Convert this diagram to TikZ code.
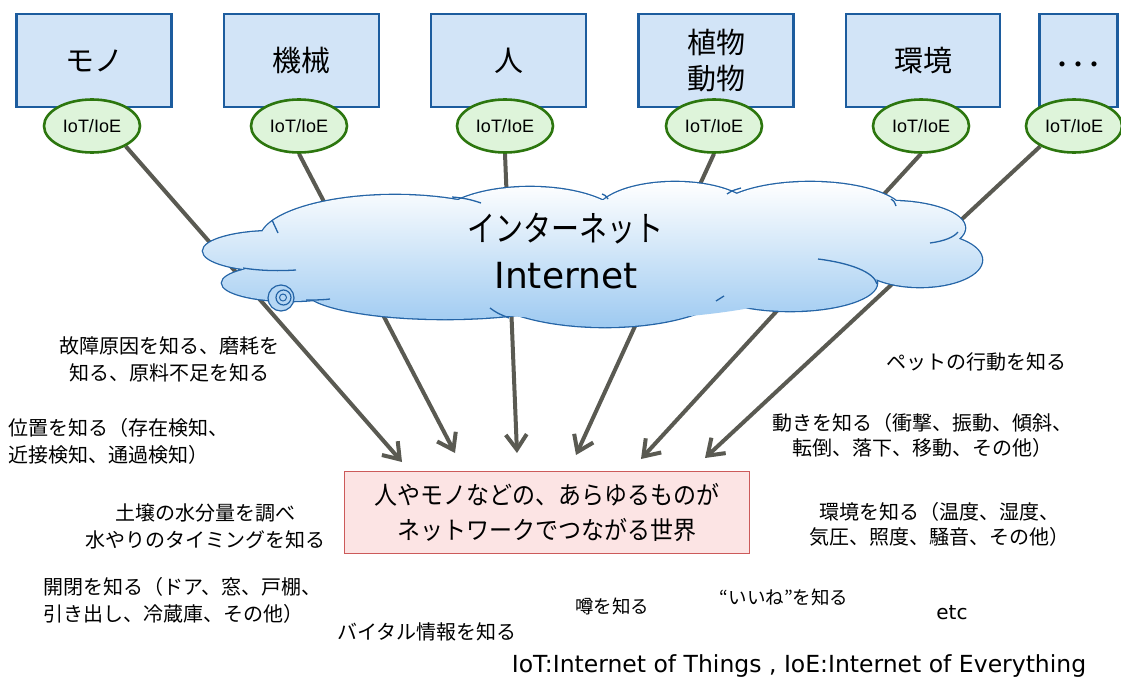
\documentclass[tikz,border=0pt]{standalone}
\usepackage{fontspec}
\newfontfamily\jp{Noto Sans CJK JP}
\newfontfamily\jpn[FakeStretch=0.8]{Noto Sans CJK JP}
\newfontfamily\jpm[FakeStretch=0.92]{Noto Sans CJK JP}
\newfontfamily\dv{DejaVu Sans}
\newfontfamily\ar{Liberation Sans}
\usetikzlibrary{shapes.geometric,arrows.meta,backgrounds}
\definecolor{boxfill}{RGB}{210,228,247}
\definecolor{boxline}{RGB}{28,92,158}
\definecolor{iotfill}{RGB}{222,244,218}
\definecolor{iotline}{RGB}{44,118,14}
\definecolor{arrgray}{RGB}{90,90,82}
\definecolor{cloudline}{RGB}{36,100,166}
\definecolor{cloudbot}{RGB}{158,202,241}
\definecolor{pinkfill}{RGB}{252,228,228}
\definecolor{pinkline}{RGB}{204,90,90}
\begin{document}
\begin{tikzpicture}[x=1pt,y=-1pt,
  thing/.style={draw=boxline, fill=boxfill, line width=2.6pt, minimum width=155pt, minimum height=93pt, inner sep=0pt, font=\jp\fontsize{29}{36}\selectfont, align=center},
  iot/.style={ellipse, draw=iotline, fill=iotfill, line width=2.6pt, minimum width=96pt, minimum height=53pt, inner sep=0pt, font=\ar\fontsize{18}{20}\selectfont},
  arr/.style={draw=arrgray, line width=4pt, -{Straight Barb[length=15pt,width=21pt]}},
  lbl/.style={font=\jp\fontsize{20}{27}\selectfont, inner sep=0pt},
  rlbl/.style={font=\jp\fontsize{20}{25.5}\selectfont, inner sep=0pt},
  puffline/.style={draw=cloudline, line width=1.3pt},
  centrebox/.style={draw=pinkline, fill=pinkfill, line width=1.3pt, minimum width=405pt, minimum height=82pt, inner sep=0pt, align=center, font=\jpm\fontsize{25}{35}\selectfont},
  captxt/.style={font=\dv\fontsize{23.5}{26}\selectfont, inner sep=0pt}]
\useasboundingbox (0,0) rectangle (1121,680);

% top boxes
\node[thing] (b1) at (94,60.5) {モノ};
\node[thing] (b2) at (301.5,60.5) {機械};
\node[thing] (b3) at (508.5,60.5) {人};
\node[thing] (b4) at (716,60.5) {植物\\動物};
\node[thing, minimum width=154pt] (b5) at (923,60.5) {環境};
\node[thing, minimum width=78pt, font=\jp\fontsize{24}{28}\selectfont] (b6) at (1078.5,60.5) {\smash{\raisebox{-13pt}{・\kern-8pt・\kern-8pt・}}};

% IoT/IoE ellipses
\node[iot] (e1) at (92,126) {IoT/IoE};
\node[iot] (e2) at (299,126) {IoT/IoE};
\node[iot] (e3) at (505,126) {IoT/IoE};
\node[iot] (e4) at (714,126) {IoT/IoE};
\node[iot] (e5) at (921,126) {IoT/IoE};
\node[iot] (e6) at (1074,126) {IoT/IoE};

% arrow targets
\coordinate (t1) at (402,462);
\coordinate (t2) at (455,453);
\coordinate (t3) at (517,453);
\coordinate (t4) at (576,455);
\coordinate (t5) at (641,459);
\coordinate (t6) at (705,458);

\begin{pgfonlayer}{background}
\fill[white] (0,0) rectangle (1121,680);
\draw[arr] (e1.-31) -- (t1);
\draw[arr] (e2.south) -- (t2);
\draw[arr] (e3.south) -- (t3);
\draw[arr] (e4.south) -- (t4);
\draw[arr] (e5.south) -- (t5);
\draw[arr] (e6.-149) -- (t6);
\end{pgfonlayer}

% cloud: outline then gradient fill
\path[draw=cloudline, line width=2.6pt]
  (395,240) ellipse[x radius=135pt, y radius=45pt]
  (275,251) ellipse[x radius=72pt, y radius=20pt]
  (290,283) ellipse[x radius=68pt, y radius=18pt]
  (445,290) ellipse[x radius=140pt, y radius=29pt]
  (605,282) ellipse[x radius=128pt, y radius=45pt]
  (790,283) ellipse[x radius=87pt, y radius=28pt]
  (920,260) ellipse[x radius=62pt, y radius=27pt]
  (890,228) ellipse[x radius=75pt, y radius=27pt]
  (810,215) ellipse[x radius=95pt, y radius=33pt]
  (675,215) ellipse[x radius=80pt, y radius=33pt]
  (530,225) ellipse[x radius=95pt, y radius=38pt];
\shade[top color=white, bottom color=cloudbot]
  (395,240) ellipse[x radius=135pt, y radius=45pt]
  (275,251) ellipse[x radius=72pt, y radius=20pt]
  (290,283) ellipse[x radius=68pt, y radius=18pt]
  (445,290) ellipse[x radius=140pt, y radius=29pt]
  (605,282) ellipse[x radius=128pt, y radius=45pt]
  (790,283) ellipse[x radius=87pt, y radius=28pt]
  (920,260) ellipse[x radius=62pt, y radius=27pt]
  (890,228) ellipse[x radius=75pt, y radius=27pt]
  (810,215) ellipse[x radius=95pt, y radius=33pt]
  (675,215) ellipse[x radius=80pt, y radius=33pt]
  (530,225) ellipse[x radius=95pt, y radius=38pt]
  (590,255) ellipse[x radius=300pt, y radius=50pt]
  (600,260) ellipse[x radius=250pt, y radius=60pt];
% interior puff arcs
\draw[puffline] (272,220) .. controls (275,226) .. (278,233);
\draw[puffline] (243,268) .. controls (262,271) and (280,271) .. (296,270);
\draw[puffline] (306,300) .. controls (315,300) and (322,300) .. (330,299);
\draw[puffline] (490,308) .. controls (497,313) .. (509,318);
\draw[puffline] (716,301) .. controls (720,299) .. (724,296);
\draw[puffline] (818,259) .. controls (850,263) and (874,272) .. (877,284);
\draw[puffline] (930,243) .. controls (945,241) and (954,237) .. (958,232);
\draw[puffline] (891,199) .. controls (894,201) .. (896,206);
\draw[puffline] (727,194) .. controls (731,191) .. (741,188);
\draw[puffline] (452,197) .. controls (465,198) and (472,200) .. (481,203);
\draw[puffline] (602,194) .. controls (605,195) .. (608,199);
% small circles
\draw[cloudline, line width=1.2pt, fill=cloudbot!75!white] (281,298) circle[radius=13pt];
\draw[cloudline, line width=1.2pt] (283.5,297.5) circle[radius=7.5pt];
\draw[cloudline, line width=1pt] (283,297.5) circle[radius=3.5pt];

\node[inner sep=0pt, font=\jpn\fontsize{35}{40}\selectfont] (net1) at (565,229) {インターネット};
\node[inner sep=0pt, font=\dv\fontsize{36}{40}\selectfont] (net2) at (566,276) {Internet};

% central box
\node[centrebox] (world) at (547,512.5) {人やモノなどの、あらゆるものが\\ネットワークでつながる世界};

% left texts
\node[lbl, align=center] (l1) at (169,359) {故障原因を知る、磨耗を\\知る、原料不足を知る};
\node[lbl, align=left, anchor=west] (l2) at (8,441.5) {位置を知る（存在検知、\\近接検知、通過検知）};
\node[lbl, align=center] (l3) at (205,526.5) {土壌の水分量を調べ\\水やりのタイミングを知る};
\node[lbl, align=left, anchor=west] (l4) at (43,600) {開閉を知る（ドア、窓、戸棚、\\引き出し、冷蔵庫、その他）};

% right texts
\node[rlbl] (r1) at (976,362) {ペットの行動を知る};
\node[rlbl, align=center] (r2) at (922,435.5) {動きを知る（衝撃、振動、傾斜、\\転倒、落下、移動、その他）};
\node[rlbl, align=center] (r3) at (939,524.5) {環境を知る（温度、湿度、\\気圧、照度、騒音、その他）};

% bottom texts
\node[lbl] (s1) at (427,632) {バイタル情報を知る};
\node[lbl, font=\jp\fontsize{18.5}{22}\selectfont] (s2) at (612,606) {噂を知る};
\node[lbl, font=\jp\fontsize{18.5}{22}\selectfont] (s3) at (784,597) {“いいね”を知る};
\node[inner sep=0pt, font=\dv\fontsize{20}{24}\selectfont] (s4) at (952,613) {etc};
\node[captxt] (s5) at (799,666) {IoT:Internet of Things , IoE:Internet of Everything};
\end{tikzpicture}
\end{document}
